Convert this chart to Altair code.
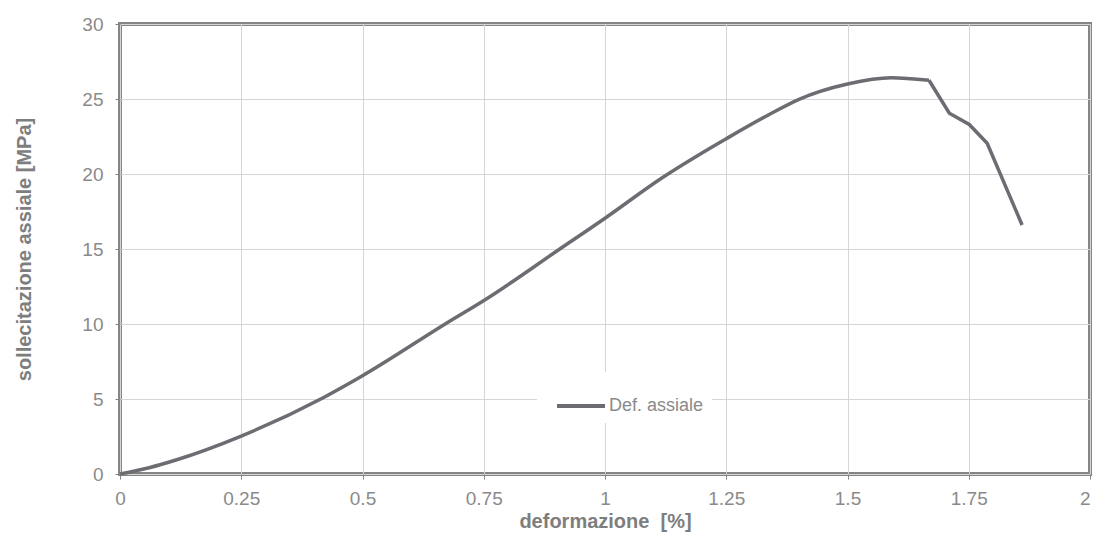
import altair as alt
import pandas as pd

deformazione = [0.0, 0.06, 0.117, 0.25, 0.418, 0.5, 0.673, 0.752, 0.906, 1.0, 1.118, 1.2, 1.25,
                1.332, 1.40, 1.5, 1.59, 1.668, 1.71, 1.751, 1.788, 1.86]
sollecitazione = [0.0, 0.42, 0.95, 2.53, 5.07, 6.55, 10.05, 11.6, 14.98, 17.05, 19.75, 21.4, 22.35,
                  23.85, 24.98, 26.0, 26.42, 26.25, 24.05, 23.3, 22.05, 16.6]
x_ticks = [0, 0.25, 0.5, 0.75, 1, 1.25, 1.5, 1.75, 2]
y_ticks = [0, 5, 10, 15, 20, 25, 30]
serie = "Def. assiale"
picco = 17  # index of the last point of the smooth part (start of the failure branch)

df = pd.DataFrame({"x": deformazione, "y": sollecitazione, "s": [serie] * len(deformazione)})
df_smooth = df.iloc[: picco + 1]
df_tail = df.iloc[picco:]

grey = "#858585"
line_col = "#6c6c72"

x_enc = alt.X("x:Q", scale=alt.Scale(domain=[0, 2], nice=False),
              axis=alt.Axis(values=x_ticks, labelExpr="'' + datum.value", labelFlush=False,
                            labelAlign=alt.condition("datum.value >= 2", alt.value("right"), alt.value("center")),
                            title="deformazione\u00a0\u00a0[%]"))
y_enc = alt.Y("y:Q", scale=alt.Scale(domain=[0, 30], nice=False),
              axis=alt.Axis(values=y_ticks, labelExpr="'' + datum.value",
                            title="sollecitazione assiale [MPa]"))
c_enc = alt.Color("s:N", scale=alt.Scale(range=[line_col]),
                  legend=alt.Legend(title=None, orient="none", legendX=417, legendY=348,
                                    symbolType="stroke", symbolSize=2304, symbolStrokeWidth=4,
                                    symbolOffset=10, labelOffset=2,
                                    labelFontSize=18, labelColor="#8a8a8a", labelFont="Liberation Sans",
                                    fillColor="white", padding=8))

smooth = alt.Chart(df_smooth).mark_line(strokeWidth=3.5, interpolate="monotone").encode(
    x=x_enc, y=y_enc, color=c_enc)
tail = alt.Chart(df_tail).mark_line(strokeWidth=3.5).encode(
    x=x_enc, y=y_enc, color=c_enc)

chart = alt.layer(smooth, tail).properties(
    width=970, height=450,
    autosize=alt.AutoSizeParams(type="none"),
    padding={"left": 112, "top": 16, "right": 2, "bottom": 60},
).configure_view(
    stroke=grey, strokeWidth=4
).configure_axis(
    domain=False,
    grid=True, gridColor="#d6d6d6", gridWidth=1,
    tickColor=grey, tickSize=5,
    labelColor="#8a8a8a", labelFont="Liberation Sans", labelFontSize=19,
    titleColor="#7e7e7e", titleFont="Liberation Sans", titleFontSize=20, titleFontWeight="bold",
).configure_axisX(
    labelPadding=10, titlePadding=3,
).configure_axisY(
    labelPadding=12, titlePadding=47,
)

chart.save("out.html", embed_options={"renderer": "svg", "actions": False})
